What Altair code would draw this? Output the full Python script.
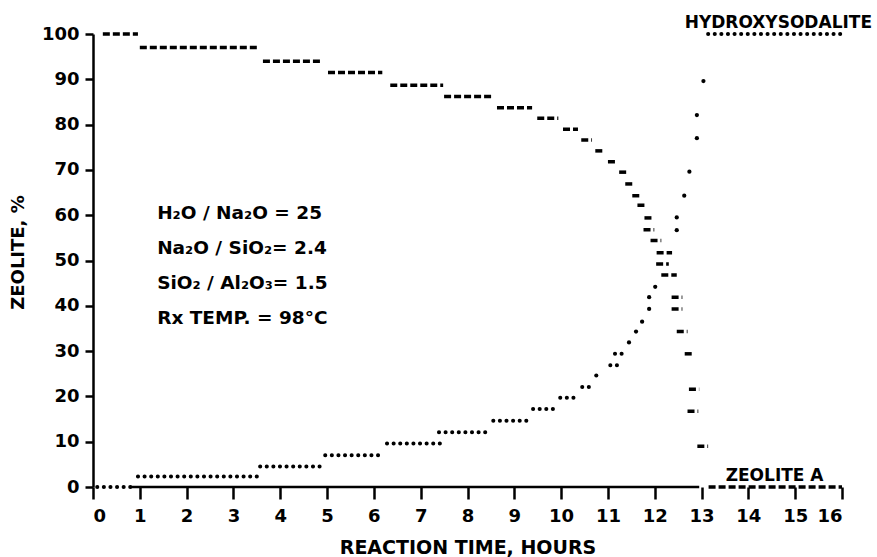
import altair as alt
import pandas as pd

# Zeolite A (dashed step segments): start hour, end hour, percent
za_start = [0.21, 1.00, 3.63, 5.02, 6.35, 7.50, 8.63, 9.49, 10.04, 10.43, 10.73, 11.00,
            11.24, 11.37, 11.52, 11.63, 11.78, 11.76, 11.91, 12.04, 12.03, 12.14, 12.36,
            12.36, 12.47, 12.64, 12.73, 12.70, 12.91, 13.15]
za_end = [0.96, 3.53, 4.91, 6.18, 7.48, 8.53, 9.38, 9.94, 10.36, 10.66, 10.92, 11.20,
          11.43, 11.56, 11.73, 11.84, 11.99, 11.99, 12.14, 12.37, 12.30, 12.47, 12.59,
          12.59, 12.70, 12.85, 12.95, 12.93, 13.14, 16.00]
za_pct = [100.0, 97.0, 94.0, 91.5, 88.7, 86.2, 83.7, 81.4, 79.0, 76.6, 74.2, 71.8,
          69.5, 66.9, 64.3, 62.2, 59.4, 56.8, 54.4, 51.7, 49.2, 46.8, 41.9,
          39.3, 34.3, 29.4, 21.6, 16.7, 9.0, 0.0]

# Hydroxysodalite (dotted step segments)
hs_start = [0.09, 0.96, 3.57, 4.96, 6.28, 7.39, 8.55, 9.40, 9.98, 10.45, 10.75, 11.05, 11.15, 13.14]
hs_end = [0.85, 3.50, 4.91, 6.18, 7.46, 8.48, 9.34, 9.91, 10.34, 10.64, 10.88, 11.20, 11.30, 16.04]
hs_pct = [0.0, 2.3, 4.5, 7.0, 9.6, 12.1, 14.6, 17.2, 19.7, 22.1, 24.6, 26.9, 29.4, 100.0]

# Hydroxysodalite single readings
hs_pt_hours = [11.45, 11.60, 11.73, 11.88, 11.88, 12.01, 12.47, 12.47, 12.63, 12.74, 12.90, 12.90, 13.04]
hs_pt_pct = [31.9, 34.3, 36.5, 39.3, 41.9, 44.2, 56.7, 59.5, 64.3, 69.6, 77.0, 82.1, 89.6]

# Composition notes
notes = ["H\u2082O / Na\u2082O = 25", "Na\u2082O / SiO\u2082= 2.4",
         "SiO\u2082 / Al\u2082O\u2083= 1.5", "Rx TEMP. = 98\u00b0C"]
notes_pct = [59.2, 51.5, 43.8, 36.0]
notes_hour = 1.37

# Series labels
series_labels = ["HYDROXYSODALITE", "ZEOLITE A"]
series_label_hour = [14.64, 14.56]
series_label_pct = [101.4, 1.3]

FONT = "DejaVu Sans"

za = pd.DataFrame({"x": za_start, "x2": za_end, "y": za_pct})
hs = pd.DataFrame({"x": hs_start, "x2": hs_end, "y": hs_pct})
pts = pd.DataFrame({"x": hs_pt_hours, "y": hs_pt_pct})
notes_df = pd.DataFrame({"t": notes, "y": notes_pct, "x": [notes_hour] * len(notes)})
lab_df = pd.DataFrame({"t": series_labels, "x": series_label_hour, "y": series_label_pct})
axis_df = pd.DataFrame({"x": [0.8], "x2": [12.95], "y": [0.0]})

xs = alt.Scale(domain=[0, 16], nice=False)
ys = alt.Scale(domain=[0, 100], nice=False)

x_axis = alt.Axis(
    values=list(range(0, 17)), domain=False, grid=False,
    tickSize=12, tickWidth=2.5, tickColor="black",
    labelFont=FONT, labelFontSize=18, labelFontWeight="bold", labelColor="black",
    labelPadding=8,
    title="REACTION TIME, HOURS", titleFont=FONT, titleFontSize=19,
    titleFontWeight="bold", titleColor="black",
    titleY=66, titleBaseline="alphabetic",
)
y_axis = alt.Axis(
    values=list(range(0, 101, 10)), domain=True, domainColor="black", domainWidth=2.5,
    grid=False, tickSize=8, tickWidth=2.5, tickColor="black",
    labelFont=FONT, labelFontSize=18, labelFontWeight="bold", labelColor="black",
    labelPadding=6,
    title="ZEOLITE, %", titleFont=FONT, titleFontSize=18, titleFontWeight="bold",
    titleColor="black", titleX=-66, titleY=218, titleAngle=270,
    titleAlign="center", titleBaseline="bottom",
)

base_line = alt.Chart(axis_df).mark_rule(color="black", strokeWidth=2.5).encode(
    x=alt.X("x:Q", scale=xs, axis=x_axis), x2="x2:Q",
    y=alt.Y("y:Q", scale=ys, axis=y_axis),
)

za_layer = alt.Chart(za).mark_rule(
    color="black", strokeWidth=3.5, strokeDash=[7, 3]
).encode(x=alt.X("x:Q", scale=xs), x2="x2:Q", y=alt.Y("y:Q", scale=ys))

hs_layer = alt.Chart(hs).mark_rule(
    color="black", strokeWidth=4, strokeDash=[0.1, 6.5], strokeCap="round"
).encode(x=alt.X("x:Q", scale=xs), x2="x2:Q", y=alt.Y("y:Q", scale=ys))

pt_layer = alt.Chart(pts).mark_circle(color="black", size=18, opacity=1).encode(
    x=alt.X("x:Q", scale=xs), y=alt.Y("y:Q", scale=ys)
)

notes_layer = alt.Chart(notes_df).mark_text(
    font=FONT, fontSize=18.5, fontWeight="bold", color="black",
    align="left", baseline="alphabetic",
).encode(x=alt.X("x:Q", scale=xs), y=alt.Y("y:Q", scale=ys), text="t:N")

label_layer = alt.Chart(lab_df).mark_text(
    font=FONT, fontSize=17, fontWeight="bold", color="black",
    align="center", baseline="alphabetic",
).encode(x=alt.X("x:Q", scale=xs), y=alt.Y("y:Q", scale=ys), text="t:N")

chart = alt.layer(
    base_line, za_layer, hs_layer, pt_layer, notes_layer, label_layer
).properties(
    width=749, height=453,
    autosize=alt.AutoSizeParams(type="none"),
    padding={"left": 93, "top": 34, "right": 35, "bottom": 70},
    background="white",
).configure_view(stroke=None)

chart.save("out.html", embed_options={"renderer": "svg", "actions": False})
